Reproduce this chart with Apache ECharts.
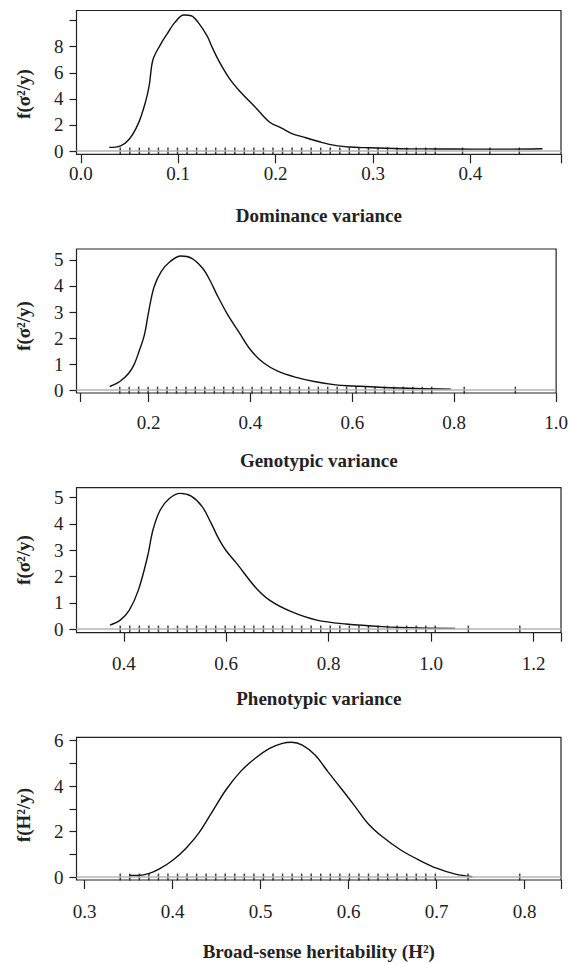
<!DOCTYPE html>
<html><head><meta charset="utf-8">
<script src="https://cdn.jsdelivr.net/npm/echarts@6/dist/echarts.min.js"></script>
<style>html,body{margin:0;padding:0;background:#fff}#c{width:571px;height:964px}</style>
</head><body><div id="c"></div>
<script>
// ---- Panel 1: Dominance variance ----
const domX = [0.0292,0.0404,0.0497,0.0591,0.0665,0.0703,0.0740,0.0815,0.0890,0.0964,0.1058,0.1133,0.1207,0.1301,0.1338,0.1413,0.1525,0.1637,0.1787,0.1936,0.2067,0.2161,0.2310,0.2460,0.2609,0.2759,0.2908,0.3282,0.3656,0.4030,0.4400,0.4740];
const domY = [0.28,0.38,0.90,2.12,3.79,5.06,6.98,8.13,9.03,9.85,10.43,10.38,9.85,8.77,8.13,6.98,5.58,4.55,3.40,2.23,1.74,1.36,1.02,0.69,0.43,0.31,0.26,0.18,0.16,0.15,0.15,0.18];
const domRug = [0.0405,0.0503,0.0601,0.0699,0.0797,0.0895,0.0993,0.1091,0.1189,0.1287,0.1385,0.1483,0.1581,0.1679,0.1777,0.1875,0.1973,0.2071,0.2169,0.2267,0.2365,0.2463,0.2561,0.2659,0.2757,0.2855,0.2953,0.3051,0.3149,0.3247,0.3345,0.3443,0.3541,0.3639,0.3919,0.4200,0.4502];
const domXLabels = [0.0,0.1,0.2,0.3,0.4];
const domXTicks = [0.0,0.1,0.2,0.3,0.4,0.493];
const domYLabels = [0,2,4,6,8];
const domYTicks = [0,2,4,6,8,10];

// ---- Panel 2: Genotypic variance ----
const genX = [0.1237,0.1435,0.161,0.172,0.1815,0.1915,0.200,0.2106,0.2247,0.2424,0.2636,0.2848,0.306,0.3201,0.3343,0.3555,0.3767,0.400,0.4261,0.4544,0.4898,0.5251,0.5675,0.6028,0.6523,0.723,0.7936];
const genY = [0.14,0.33,0.65,1.0,1.5,2.1,3.0,3.95,4.55,4.94,5.15,5.06,4.68,4.23,3.66,2.89,2.25,1.55,1.04,0.72,0.49,0.33,0.20,0.16,0.11,0.06,0.04];
const genRug = [0.1434,0.1620,0.1805,0.1991,0.2176,0.2362,0.2547,0.2733,0.2918,0.3104,0.3290,0.3475,0.3661,0.3846,0.4032,0.4217,0.4403,0.4588,0.4774,0.4960,0.5145,0.5331,0.5516,0.5702,0.5887,0.6073,0.6258,0.6444,0.6630,0.6815,0.7001,0.7186,0.7372,0.7558,0.8196,0.9200];
const genXLabels = [0.2,0.4,0.6,0.8,1.0];
const genXTicks = [0.0668,0.2,0.4,0.6,0.8,1.0];
const genYLabels = [0,1,2,3,4,5];
const genYTicks = [0,1,2,3,4,5];

// ---- Panel 3: Phenotypic variance ----
const phenX = [0.373,0.393,0.4107,0.4284,0.4462,0.4569,0.4711,0.4889,0.5102,0.5316,0.553,0.5707,0.5849,0.5991,0.6204,0.656,0.6844,0.7271,0.7769,0.8338,0.9049,0.976,1.047];
const phenY = [0.15,0.34,0.72,1.48,2.75,3.77,4.53,4.97,5.165,5.06,4.66,4.02,3.45,3.0,2.5,1.61,1.10,0.66,0.34,0.19,0.09,0.04,0.025];
const phenRug = [0.3930,0.4116,0.4303,0.4489,0.4676,0.4862,0.5049,0.5235,0.5421,0.5608,0.5794,0.5981,0.6167,0.6354,0.6540,0.6726,0.6913,0.7099,0.7286,0.7472,0.7659,0.7845,0.8031,0.8218,0.8404,0.8591,0.8777,0.8964,0.9150,0.9336,0.9523,0.9709,0.9896,1.0082,1.0728,1.1733];
const phenXLabels = [0.4,0.6,0.8,1.0,1.2];
const phenXTicks = [0.4,0.6,0.8,1.0,1.2,1.2537];
const phenYLabels = [0,1,2,3,4,5];
const phenYTicks = [0,1,2,3,4,5];

// ---- Panel 4: Broad-sense heritability ----
const herX = [0.3509,0.3613,0.3737,0.3861,0.4006,0.4151,0.4296,0.4440,0.4606,0.4772,0.4937,0.5103,0.5248,0.5351,0.5475,0.562,0.5765,0.5930,0.6075,0.6220,0.6386,0.6593,0.6800,0.7007,0.7214,0.7408];
const herY = [0.07,0.07,0.16,0.38,0.75,1.26,1.92,2.80,3.83,4.64,5.22,5.66,5.88,5.93,5.81,5.37,4.64,3.83,3.10,2.36,1.77,1.19,0.75,0.38,0.13,0.015];
const herRug = [0.3406,0.3514,0.3623,0.3731,0.3840,0.3948,0.4057,0.4165,0.4274,0.4382,0.4491,0.4599,0.4708,0.4816,0.4925,0.5033,0.5142,0.5250,0.5359,0.5467,0.5576,0.5684,0.5793,0.5901,0.6010,0.6118,0.6227,0.6335,0.6444,0.6552,0.6661,0.6769,0.6878,0.6986,0.7358,0.7945];
const herXLabels = [0.3,0.4,0.5,0.6,0.7,0.8];
const herXTicks = [0.3,0.4,0.5,0.6,0.7,0.8,0.8414];
const herYLabels = [0,2,4,6];
const herYTicks = [0,1,2,3,4,5,6];

const panels = [
  {x:domX,y:domY,rug:domRug,xl:domXLabels,xt:domXTicks,yl:domYLabels,yt:domYTicks,
   top:10.5,h:143.8,xmin:-0.0044,xmax:0.493,ymin:-0.25,ymax:10.78,lm:9.5,
   title:'Dominance variance',ty:215,ylab:'f(σ²/y)',yy:94},
  {x:genX,y:genY,rug:genRug,xl:genXLabels,xt:genXTicks,yl:genYLabels,yt:genYTicks,
   top:249,h:144,xmin:0.0585,xmax:1.0,ymin:-0.11,ymax:5.42,lm:19.5,
   title:'Genotypic variance',ty:460,ylab:'f(σ²/y)',yy:326},
  {x:phenX,y:phenY,rug:phenRug,xl:phenXLabels,xt:phenXTicks,yl:phenYLabels,yt:phenYTicks,
   top:487.7,h:145,xmin:0.3076,xmax:1.2537,ymin:-0.14,ymax:5.38,lm:21,
   title:'Phenotypic variance',ty:698,ylab:'f(σ²/y)',yy:560},
  {x:herX,y:herY,rug:herRug,xl:herXLabels,xt:herXTicks,yl:herYLabels,yt:herYTicks,
   top:737.3,h:142.7,xmin:0.2909,xmax:0.8414,ymin:-0.13,ymax:6.15,lm:21.5,
   title:'Broad-sense heritability (H²)',ty:951.7,ylab:'f(H²/y)',yy:815}
];

const FONT = '"Liberation Serif","Times New Roman",serif';
const grids=[],xAxes=[],yAxes=[],series=[],graphics=[];
panels.forEach((p,i)=>{
  grids.push({left:76.5,right:10,top:p.top,height:p.h,show:true,borderColor:'#222',borderWidth:1.2,backgroundColor:'transparent'});
  xAxes.push({type:'value',gridIndex:i,min:p.xmin,max:p.xmax,
    axisLine:{show:false,onZero:false},splitLine:{show:false},
    axisTick:{show:true,inside:false,length:9,lineStyle:{color:'#222',width:1.2},customValues:p.xt},
    axisLabel:{customValues:p.xl,formatter:v=>Number(v).toFixed(1),margin:p.lm,fontFamily:FONT,fontSize:19,color:'#222'}});
  yAxes.push({type:'value',gridIndex:i,min:p.ymin,max:p.ymax,
    axisLine:{show:false,onZero:false},splitLine:{show:false},
    axisTick:{show:true,inside:false,length:7,lineStyle:{color:'#222',width:1.2},customValues:p.yt},
    axisLabel:{customValues:p.yl,formatter:v=>String(Math.round(v)),margin:13,fontFamily:FONT,fontSize:19,color:'#222'}});
  series.push({type:'line',xAxisIndex:i,yAxisIndex:i,data:p.x.map((v,k)=>[v,p.y[k]]),
    showSymbol:false,smooth:0.35,lineStyle:{color:'#111',width:1.4},z:3,
    markLine:{silent:true,symbol:'none',label:{show:false},lineStyle:{color:'#b5b5b5',width:1.5,type:'solid'},data:[{yAxis:0}],animation:false}});
  series.push({type:'scatter',xAxisIndex:i,yAxisIndex:i,data:p.rug.map(v=>[v,0]),
    symbol:'rect',symbolSize:[1.5,7],itemStyle:{color:'#111'},z:4});
  graphics.push({type:'text',x:318.8,y:p.ty,style:{text:p.title,font:'bold 19px '+FONT,textAlign:'center',textVerticalAlign:'middle',fill:'#222'}});
  graphics.push({type:'text',x:23,y:p.yy,rotation:Math.PI/2,style:{text:p.ylab,font:'bold 19px '+FONT,textAlign:'center',textVerticalAlign:'middle',fill:'#222'}});
});

const chart = echarts.init(document.getElementById('c'),null,{renderer:'svg'});
chart.setOption({animation:false,grid:grids,xAxis:xAxes,yAxis:yAxes,series:series,graphic:graphics});
</script>
</body></html>
